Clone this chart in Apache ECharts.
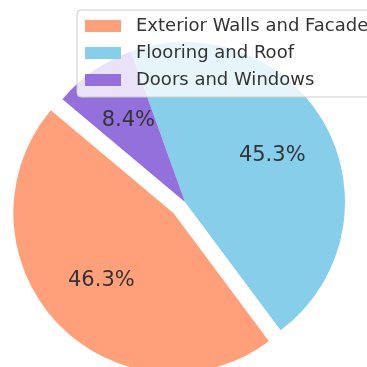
<!DOCTYPE html>
<html>
<head>
<meta charset="utf-8">
<script src="https://cdn.jsdelivr.net/npm/echarts@6/dist/echarts.min.js"></script>
<style>
  html, body { margin: 0; padding: 0; background: #ffffff; }
  #chart { width: 367px; height: 367px; }
</style>
</head>
<body>
<div id="chart"></div>
<script>
// Share of renovation cost by building component (percent)
const categories = ['Exterior Walls and Facade', 'Flooring and Roof', 'Doors and Windows'];
const shares = [46.3, 45.3, 8.4];
const colors = ['#FFA07A', '#87CEEB', '#9370DB'];
const exploded = [true, false, false];

const FONT = 'DejaVu Sans, sans-serif';
const CENTER = [185, 202];
const R = 160;

const sliceData = categories.map((name, i) => ({
  name,
  value: shares[i],
  selected: exploded[i],
  itemStyle: { color: colors[i] }
}));

// Same slices, transparent, with an inner radius of 0.2R so that the
// "inside" label sits at 0.6R along each slice's middle angle.
const labelData = categories.map((name, i) => ({
  name,
  value: shares[i],
  selected: exploded[i]
}));

const common = {
  type: 'pie',
  center: CENTER,
  startAngle: 140,
  clockwise: false,
  selectedMode: 'single',
  selectedOffset: 16,
  avoidLabelOverlap: false,
  emphasis: { disabled: true },
  animation: false
};

const chart = echarts.init(document.getElementById('chart'), null, { renderer: 'canvas' });
chart.setOption({
  animation: false,
  legend: {
    orient: 'vertical',
    left: 77,
    top: 10,
    data: categories,
    icon: 'rect',
    itemWidth: 36,
    itemHeight: 12,
    itemGap: 9,
    padding: [7, 12, 8, 8],
    backgroundColor: 'rgba(255,255,255,0.8)',
    borderColor: '#cccccc',
    borderWidth: 1,
    borderRadius: 4,
    selectedMode: false,
    textStyle: {
      fontFamily: FONT,
      fontSize: 18,
      lineHeight: 18,
      color: '#333333',
      padding: [0, 0, 0, 10]
    }
  },
  series: [
    Object.assign({}, common, {
      name: 'shares',
      radius: [0, R],
      label: { show: false },
      labelLine: { show: false },
      itemStyle: { borderWidth: 0 },
      data: sliceData
    }),
    Object.assign({}, common, {
      name: 'labels',
      radius: [R * 0.2, R],
      silent: true,
      legendHoverLink: false,
      itemStyle: { color: 'rgba(0,0,0,0)', borderWidth: 0 },
      label: {
        show: true,
        position: 'inside',
        fontFamily: FONT,
        fontSize: 21,
        color: '#333333',
        formatter: p => p.value.toFixed(1) + '%'
      },
      labelLine: { show: false },
      data: labelData
    })
  ]
});
</script>
</body>
</html>
